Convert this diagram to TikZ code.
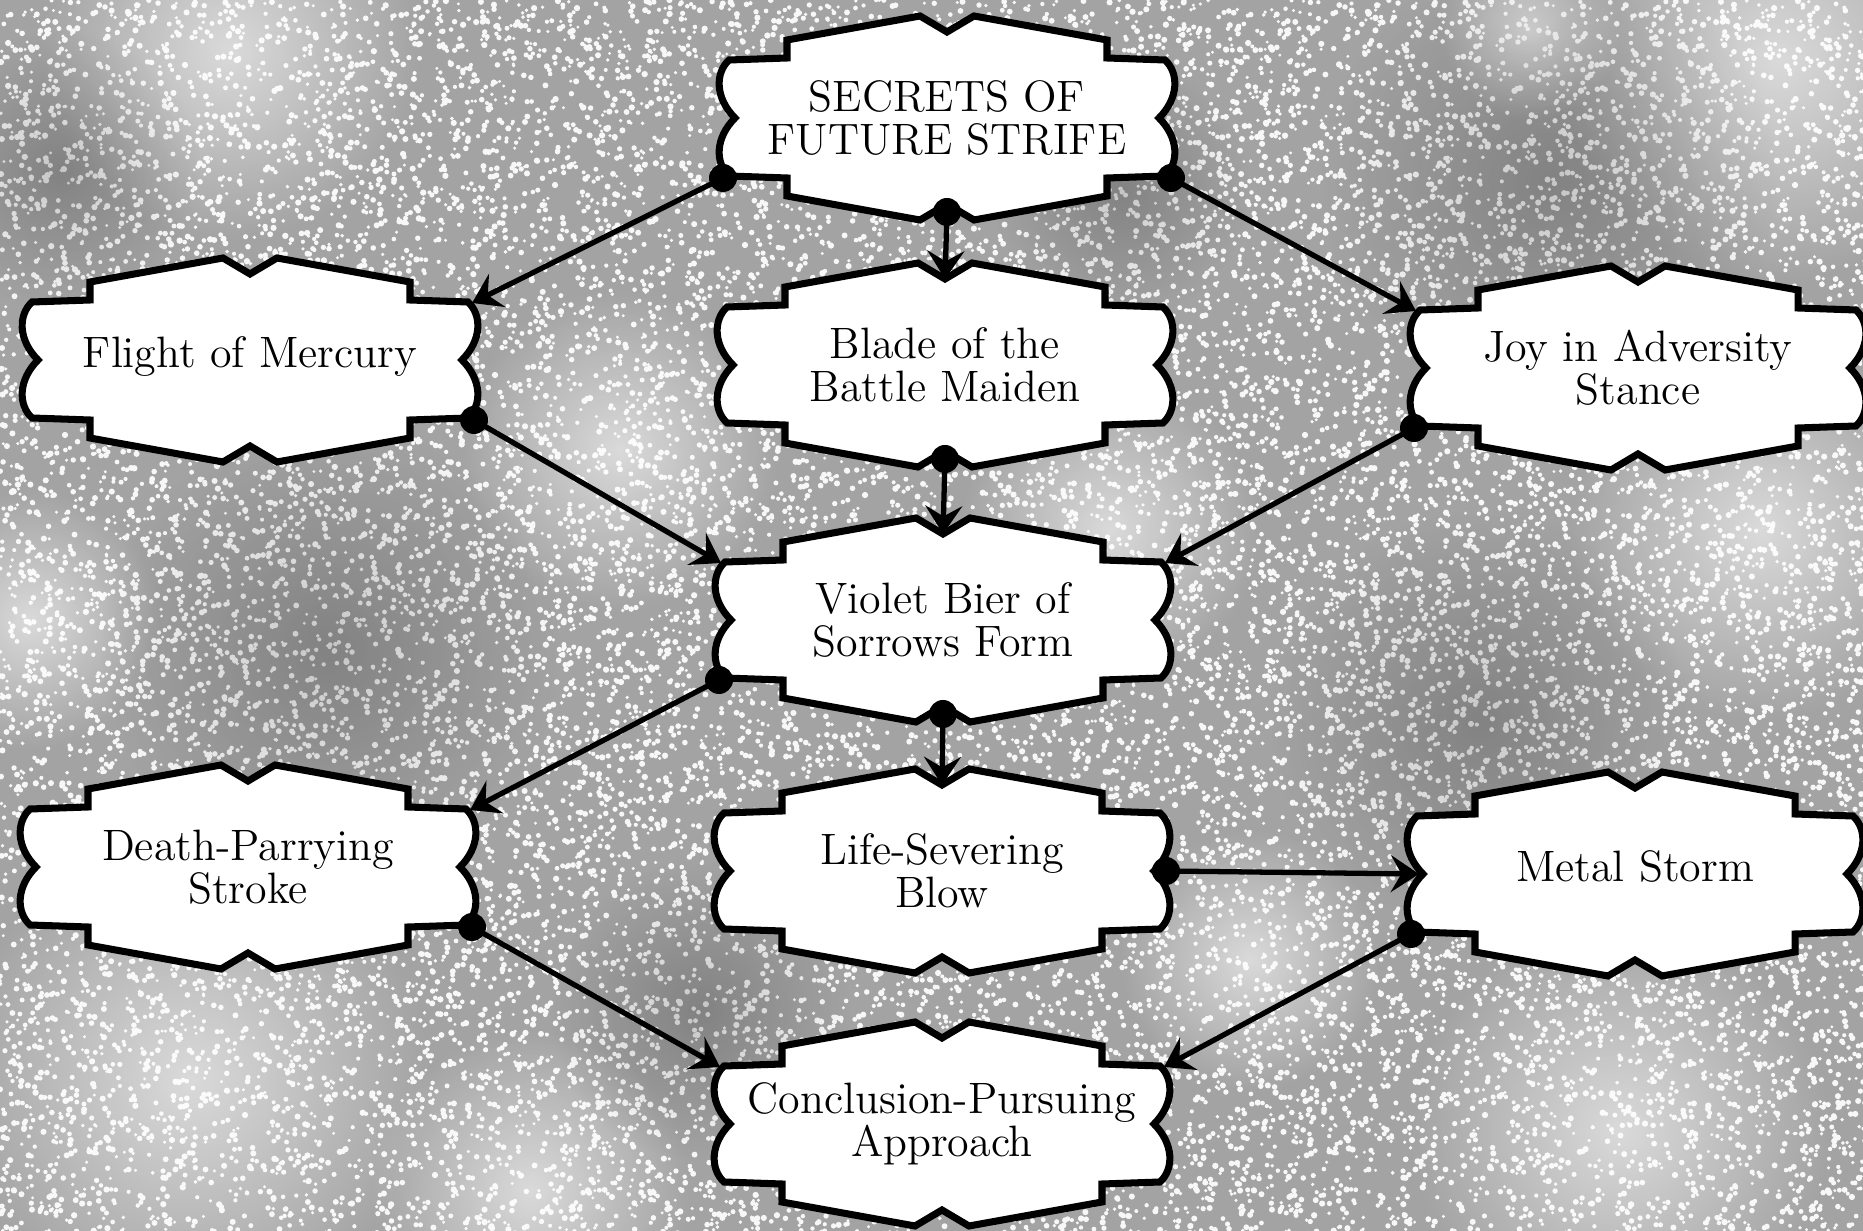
\documentclass[tikz,border=0pt]{standalone}
\usetikzlibrary{arrows.meta,fadings}
\pgfdeclarelayer{bg}
\pgfdeclarelayer{frames}
\pgfsetlayers{bg,frames,main}
\definecolor{paper}{gray}{0.64}
\definecolor{speck}{gray}{0.97}
\tikzfading[name=blobfade, inner color=transparent!0, outer color=transparent!100]
\tikzset{
  ornate/.style={fill=white, draw=black, line width=2pt, line join=miter},
  lbl/.style={align=center, font=\fontsize{12.5}{12.3}\selectfont, inner sep=0pt},
  single/.style={text height=9pt, text depth=4.5pt},
  conn/.style={line width=1.5pt, -{Stealth[length=8pt,width=10.5pt,inset=3pt]}},
  knob/.style={fill=black},
  lightblob/.style={white, opacity=0.6, path fading=blobfade},
  darkblob/.style={black, opacity=0.2, path fading=blobfade},
  tile/.style={inner sep=0pt, outer sep=0pt},
}
% speckle tile
\newsavebox\speckbox
\sbox\speckbox{\begin{tikzpicture}[x=0.01cm,y=0.01cm]
  \useasboundingbox (0,0) rectangle (310,310);
  \pgfmathsetseed{4242}
  \foreach \i in {1,...,1050}{%
    \pgfmathsetmacro\xx{rnd*310}%
    \pgfmathsetmacro\yy{rnd*310}%
    \pgfmathsetmacro\rr{1.6+rnd*1.6}%
    \fill[speck] (\xx,\yy) circle (\rr);}
\end{tikzpicture}}
\newcommand\ornframe[1]{%
  \begin{scope}[shift={(#1.center)}]
    \draw[ornate] (-218,-58) -- (-160,-60) -- (-160,-78) -- (-27,-102) -- (0,-86) -- (27,-102)
      -- (160,-78) -- (160,-60) -- (218,-58)
      .. controls (232,-45) and (232,-20) .. (212,0)
      .. controls (232,20) and (232,45) .. (218,58)
      -- (160,60) -- (160,78) -- (27,102) -- (0,86) -- (-27,102) -- (-160,78) -- (-160,60) -- (-218,58)
      .. controls (-232,45) and (-232,20) .. (-212,0)
      .. controls (-232,-20) and (-232,-45) .. cycle;
    \coordinate (#1-tl) at (-222,-57);
    \coordinate (#1-tr) at (222,-57);
    \coordinate (#1-bl) at (-224,60);
    \coordinate (#1-br) at (224,60);
    \coordinate (#1-t) at (0,-86);
    \coordinate (#1-b) at (0,94);
    \coordinate (#1-l) at (-216,0);
    \coordinate (#1-r) at (224,0);
  \end{scope}}
\begin{document}
\begin{tikzpicture}[x=0.01cm, y=-0.01cm]
\useasboundingbox (0,0) rectangle (1863,1231);
\clip (0,0) rectangle (1863,1231);
% background texture
\begin{pgfonlayer}{bg}
  \fill[paper] (0,0) rectangle (1863,1231);
  \foreach \ti in {0,...,6}{
    \foreach \tj in {0,...,3}{
      \pgfmathsetmacro\rot{90*mod(\ti*3+\tj*5,4)}
      \node[tile, rotate=\rot] (tile-\ti-\tj) at (\ti*310+155, \tj*310+155) {\usebox\speckbox};
    }}
  \foreach \cx/\cy/\r in {230/50/190, 30/620/130, 620/450/160, 1110/530/150, 1780/60/220,
      1760/530/190, 190/1080/240, 530/1190/160, 1250/960/130, 1620/1130/210, 1530/30/90}
    {\fill[lightblob] (\cx,\cy) circle (\r);}
  \foreach \cx/\cy/\r in {1550/180/230, 330/650/230, 1480/720/210, 60/170/140, 700/1010/150, 1120/190/130}
    {\fill[darkblob] (\cx,\cy) circle (\r);}
\end{pgfonlayer}
% nodes
\node[lbl] (s) at (947,118) {SECRETS OF\\FUTURE STRIFE};
\node[lbl,single] (f) at (250,360) {Flight of Mercury};
\node[lbl] (b) at (945,365) {Blade of the\\Battle Maiden};
\node[lbl] (j) at (1638,368) {Joy in Adversity\\Stance};
\node[lbl] (v) at (943,620) {Violet Bier of\\Sorrows Form};
\node[lbl] (d) at (248,867) {Death-Parrying\\Stroke};
\node[lbl] (l) at (942,871) {Life-Severing\\Blow};
\node[lbl,single] (m) at (1635,874) {Metal Storm};
\node[lbl] (c) at (942,1124) {Conclusion-Pursuing\\Approach};
\begin{pgfonlayer}{frames}
  \foreach \n in {s,f,b,j,v,d,l,m,c}{\ornframe{\n}}
\end{pgfonlayer}
% connectors
\draw[conn] (s-bl) -- (f-tr);
\draw[conn] (s-b) -- (b-t);
\draw[conn] (s-br) -- (j-tl);
\draw[conn] (f-br) -- (v-tl);
\draw[conn] (b-b) -- (v-t);
\draw[conn] (j-bl) -- (v-tr);
\draw[conn] (v-bl) -- (d-tr);
\draw[conn] (v-b) -- (l-t);
\draw[conn] (l-r) -- (m-l);
\draw[conn] (d-br) -- (c-tl);
\draw[conn] (m-bl) -- (c-tr);
\foreach \p in {s-bl,s-b,s-br,f-br,b-b,j-bl,v-bl,v-b,l-r,d-br,m-bl}
  {\fill[knob] (\p) circle (14);}
\end{tikzpicture}
\end{document}
